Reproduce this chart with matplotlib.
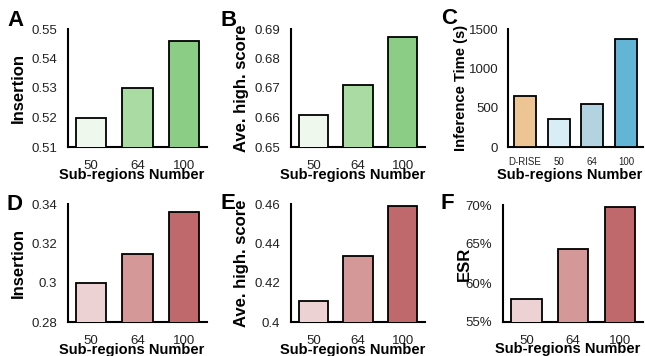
import matplotlib
matplotlib.use("Agg")
import matplotlib.pyplot as plt
from matplotlib.ticker import FuncFormatter

plt.rcParams['font.family'] = ['Liberation Sans', 'DejaVu Sans']

# ---- data ----
sub_regions = ["50", "64", "100"]
time_cats = ["D-RISE", "50", "64", "100"]

insertion_top = [0.520, 0.530, 0.546]
avehigh_top = [0.661, 0.671, 0.6874]
inference_time = [652, 358, 546, 1368]
insertion_bot = [0.2997, 0.3147, 0.3359]
avehigh_bot = [0.4107, 0.4336, 0.459]
esr_bot = [57.9, 64.4, 69.7]

greens = ["#eff8ec", "#a9dba3", "#8ccd86"]
blues = ["#edc594", "#d8edf6", "#b4d3e1", "#63b5d6"]
reds = ["#ecd2d3", "#d59899", "#c0696d"]

W, H = 645, 356
fig = plt.figure(figsize=(W / 100, H / 100), dpi=100)


def add_ax(x0, x1, y0, y1):
    return fig.add_axes([x0 / W, 1 - y1 / H, (x1 - x0) / W, (y1 - y0) / H])


def style(ax, cats, vals, colors, ylim, yticks, ylabel, ylx, fmt=None,
          xtick_size=9.5, ypad=8, xpad=9, ylsize=12):
    x = list(range(len(cats)))
    ax.bar(x, vals, width=0.65, color=colors, edgecolor="black", linewidth=1.3,
           zorder=3)
    ax.set_xlim(-0.5, len(cats) - 0.5)
    ax.set_ylim(*ylim)
    ax.set_yticks(yticks)
    if fmt is not None:
        ax.yaxis.set_major_formatter(FuncFormatter(fmt))
    ax.set_xticks(x)
    ax.set_xticklabels(cats)
    for s in ["top", "right"]:
        ax.spines[s].set_visible(False)
    for s in ["left", "bottom"]:
        ax.spines[s].set_linewidth(1.5)
    ax.tick_params(axis="y", length=0, pad=ypad, labelsize=9.5, labelcolor="#222222")
    ax.tick_params(axis="x", length=0, pad=xpad, labelsize=xtick_size, labelcolor="#222222")
    ax.set_ylabel(ylabel, fontsize=ylsize, fontweight="bold")
    ax.yaxis.set_label_coords(ylx, 0.5)
    ax.set_xlabel("Sub-regions Number", fontsize=10.5, fontweight="bold")
    ax.xaxis.set_label_coords(0.46, -0.175)


axA = add_ax(68, 207, 29, 147)
style(axA, sub_regions, insertion_top, greens, (0.51, 0.55),
      [0.51, 0.52, 0.53, 0.54, 0.55], "Insertion", -0.30,
      fmt=lambda v, p: f"{v:.2f}")

axB = add_ax(291, 425, 29, 147)
style(axB, sub_regions, avehigh_top, greens, (0.65, 0.69),
      [0.65, 0.66, 0.67, 0.68, 0.69], "Ave. high. score", -0.31,
      fmt=lambda v, p: f"{v:.2f}")

axC = add_ax(508, 643, 29, 147)
style(axC, time_cats, inference_time, blues, (0, 1500),
      [0, 500, 1000, 1500], "Inference Time (s)", -0.30,
      xtick_size=7, ypad=7, xpad=7, ylsize=10.6)

axD = add_ax(68, 207, 204, 322)
style(axD, sub_regions, insertion_bot, reds, (0.28, 0.34),
      [0.28, 0.30, 0.32, 0.34], "Insertion", -0.30,
      fmt=lambda v, p: "0.3" if abs(v - 0.3) < 1e-9 else f"{v:.2f}")

axE = add_ax(291, 425, 204, 322)
style(axE, sub_regions, avehigh_bot, reds, (0.40, 0.46),
      [0.40, 0.42, 0.44, 0.46], "Ave. high. score", -0.31,
      fmt=lambda v, p: "0.4" if abs(v - 0.4) < 1e-9 else f"{v:.2f}")

axF = add_ax(503, 643, 205, 322)
style(axF, sub_regions, esr_bot, reds, (55, 70),
      [55, 60, 65, 70], "ESR", -0.22,
      fmt=lambda v, p: f"{v:.0f}%")

letters = [("A", 7, 10), ("B", 221, 10), ("C", 441, 8),
           ("D", 6, 194), ("E", 221, 193), ("F", 441, 193)]
for t, px, py in letters:
    fig.text(px / W, 1 - py / H, t, fontsize=16, fontweight="bold",
             ha="left", va="top")

fig.savefig("out.png", dpi=100)
